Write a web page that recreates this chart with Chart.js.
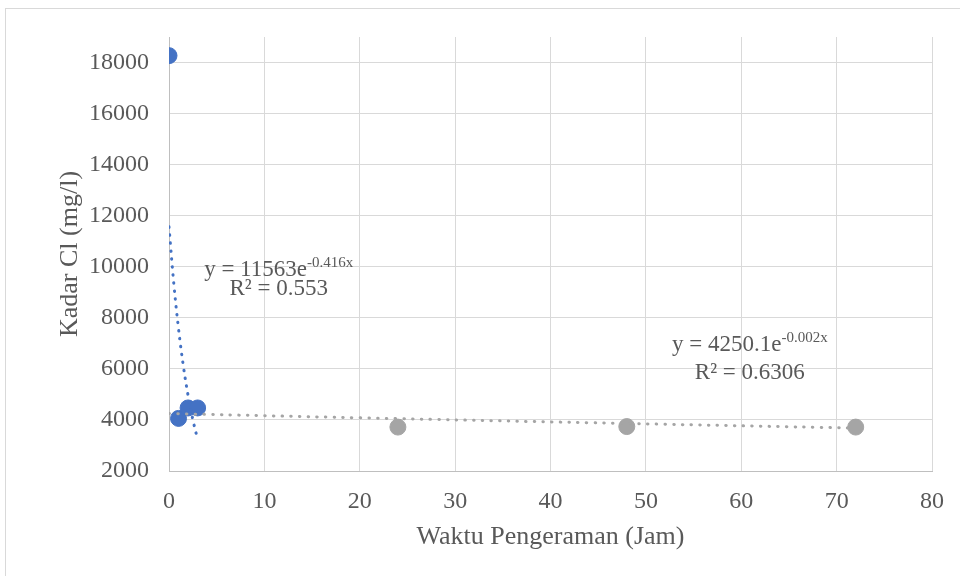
<!DOCTYPE html>
<html>
<head>
<meta charset="utf-8">
<script src="https://cdn.jsdelivr.net/npm/chart.js@4/dist/chart.umd.min.js"></script>
<style>
  html, body { margin: 0; padding: 0; background: #fff; }
  #wrap { position: relative; width: 960px; height: 576px; overflow: hidden; }
  #frame { position: absolute; left: 5px; top: 8px; width: 1000px; height: 1000px; border: 1px solid #d9d9d9; box-sizing: border-box; }
  canvas { position: absolute; left: 0; top: 0; }
</style>
</head>
<body>
<div id="wrap">
  <div id="frame"></div>
  <canvas id="c" width="960" height="576"></canvas>
</div>
<script>
// ---- data ----
const blueX = [0, 1, 2, 3];
const blueY = [18270, 4060, 4470, 4470];
const grayX = [24, 48, 72];
const grayY = [3720, 3740, 3720];
const blueTrendX = [0, 0.5, 1, 1.5, 2, 2.5, 3];
const blueTrendY = [11563, 9355, 7571, 6125, 4957, 4011, 3245];
const grayTrendX = [0, 24, 48, 72];
const grayTrendY = [4250, 4050, 3861, 3680];
const xTicks = [0, 10, 20, 30, 40, 50, 60, 70, 80];
const yTicks = [2000, 4000, 6000, 8000, 10000, 12000, 14000, 16000, 18000];
const xTitle = 'Waktu Pengeraman (Jam)';
const yTitle = 'Kadar Cl (mg/l)';
const eq1 = ['y = 11563e', '-0.416x', 'R\u00B2 = 0.553'];
const eq2 = ['y = 4250.1e', '-0.002x', 'R\u00B2 = 0.6306'];

const pts = (xs, ys) => xs.map((x, i) => ({x: x, y: ys[i]}));

const TEXT = '#595959';
const FONT = '"Liberation Serif", "Times New Roman", serif';

// equation labels anchored in data coordinates
const eqLabels = [
  {lines: eq1, x: 11.5, y1: 9630, y2: 8900},
  {lines: eq2, x: 60.9, y1: 6711, y2: 5620}
];

const eqPlugin = {
  id: 'eqPlugin',
  afterDatasetsDraw(chart) {
    const ctx = chart.ctx;
    const xs = chart.scales.x, ys = chart.scales.y;
    ctx.save();
    ctx.fillStyle = TEXT;
    ctx.textBaseline = 'alphabetic';
    eqLabels.forEach(l => {
      const cx = xs.getPixelForValue(l.x);
      const b1 = ys.getPixelForValue(l.y1);
      const b2 = ys.getPixelForValue(l.y2);
      ctx.font = '23px ' + FONT;
      const w1 = ctx.measureText(l.lines[0]).width;
      ctx.font = '15px ' + FONT;
      const w2 = ctx.measureText(l.lines[1]).width;
      const start = cx - (w1 + w2) / 2;
      ctx.textAlign = 'left';
      ctx.font = '23px ' + FONT;
      ctx.fillText(l.lines[0], start, b1);
      ctx.font = '15px ' + FONT;
      ctx.fillText(l.lines[1], start + w1, b1 - 9);
      ctx.font = '23px ' + FONT;
      ctx.textAlign = 'center';
      ctx.fillText(l.lines[2], cx, b2);
    });
    ctx.restore();
  }
};

new Chart(document.getElementById('c'), {
  type: 'scatter',
  data: {
    datasets: [
      {
        label: 'blue',
        data: pts(blueX, blueY),
        backgroundColor: '#4472c4',
        borderColor: '#4472c4',
        pointRadius: 8,
        pointHoverRadius: 8,
        order: 3
      },
      {
        label: 'gray',
        data: pts(grayX, grayY),
        backgroundColor: '#a5a5a5',
        borderColor: '#a5a5a5',
        pointRadius: 8,
        pointHoverRadius: 8,
        order: 3
      },
      {
        label: 'blue trend',
        data: pts(blueTrendX, blueTrendY),
        showLine: true,
        borderColor: '#4472c4',
        borderWidth: 3,
        borderDash: [0.5, 7.5],
        borderCapStyle: 'round',
        pointRadius: 0,
        tension: 0.4,
        order: 1
      },
      {
        label: 'gray trend',
        data: pts(grayTrendX, grayTrendY),
        showLine: true,
        borderColor: '#a5a5a5',
        borderWidth: 3,
        borderDash: [0.5, 8.2],
        borderCapStyle: 'round',
        pointRadius: 0,
        tension: 0.4,
        order: 1
      }
    ]
  },
  options: {
    responsive: false,
    animation: false,
    devicePixelRatio: 1,
    layout: { padding: { top: 37, right: 28, left: 0, bottom: 0 } },
    plugins: {
      legend: { display: false },
      tooltip: { enabled: false }
    },
    scales: {
      x: {
        type: 'linear',
        min: 0, max: 80,
        afterBuildTicks(s) { s.ticks = xTicks.map(v => ({value: v})); },
        ticks: { color: TEXT, font: { family: FONT, size: 24 }, padding: 16, maxRotation: 0, autoSkip: false, callback: v => String(v) },
        grid: { color: '#d9d9d9', lineWidth: 1, drawTicks: false },
        border: { display: true, color: '#bfbfbf', width: 1 },
        title: { display: true, text: xTitle, color: TEXT, font: { family: FONT, size: 26 }, padding: { top: 0, bottom: 23 } },
        afterFit(s) { s.height = 105; }
      },
      y: {
        type: 'linear',
        min: 2000, max: 19000,
        afterBuildTicks(s) { s.ticks = yTicks.map(v => ({value: v})); },
        ticks: { color: TEXT, font: { family: FONT, size: 24 }, padding: 20, autoSkip: false, callback: v => String(v) },
        grid: { color: '#d9d9d9', lineWidth: 1, drawTicks: false },
        border: { display: true, color: '#bfbfbf', width: 1 },
        title: { display: true, text: yTitle, color: TEXT, font: { family: FONT, size: 26 }, padding: { top: 55, bottom: 0 } },
        afterFit(s) { s.width = 169; }
      }
    }
  },
  plugins: [eqPlugin]
});
</script>
</body>
</html>
